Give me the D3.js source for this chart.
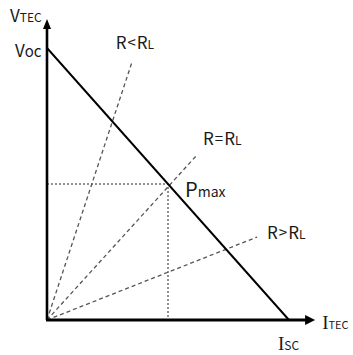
<!DOCTYPE html>
<html>
<head>
<meta charset="utf-8">
<script src="https://cdn.jsdelivr.net/npm/d3@7"></script>
<style>
  html, body { margin: 0; padding: 0; background: #fff; }
  svg { display: block; }
  text { font-family: "Noto Sans CJK KR", "Noto Sans", sans-serif; fill: #1a1a1a; }
</style>
</head>
<body>
<svg id="chart" width="353" height="355"></svg>
<script>
// normalised units: Isc = 1, Voc = 1
const isc = 1
const voc = 1
const pmax = { i: 0.5, v: 0.5 }
// load lines: end points of the dashed rays from the origin
const loadNames = ["R<RL", "R=RL", "R>RL"]
const loadEnds = [[0.35, 0.945], [0.62, 0.607], [0.868, 0.305]]
const axisMax = { i: 1.108, v: 1.107 }

const svg = d3.select("#chart")
const x = d3.scaleLinear().domain([0, isc]).range([47, 289])
const y = d3.scaleLinear().domain([0, voc]).range([320, 48])
const line = d3.line().x(d => x(d[0])).y(d => y(d[1]))

// dotted guides to Pmax
svg.append("path")
    .attr("d", line([[0, pmax.v], [pmax.i, pmax.v], [pmax.i, 0]]))
    .attr("fill", "none")
    .attr("stroke", "#222")
    .attr("stroke-width", 1)
    .attr("stroke-dasharray", "2,2")

// load lines
svg.selectAll("path.load")
    .data(loadEnds)
    .join("path")
    .attr("class", "load")
    .attr("d", d => line([[0, 0], d]))
    .attr("fill", "none")
    .attr("stroke", "#555")
    .attr("stroke-width", 1.3)
    .attr("stroke-dasharray", "4,3")

// I-V line
svg.append("path")
    .attr("d", line([[0, voc], [isc, 0]]))
    .attr("stroke", "#000")
    .attr("stroke-width", 1.9)

// axes
svg.append("line")
    .attr("x1", x(0)).attr("y1", y(0))
    .attr("x2", x(0)).attr("y2", y(axisMax.v) + 6)
    .attr("stroke", "#000").attr("stroke-width", 2.6)
svg.append("line")
    .attr("x1", x(0) - 1).attr("y1", y(0))
    .attr("x2", x(axisMax.i) - 6).attr("y2", y(0))
    .attr("stroke", "#000").attr("stroke-width", 3)
const yt = [x(0), y(axisMax.v)]
svg.append("path")
    .attr("d", `M${yt[0]},${yt[1]}L${yt[0]-4},${yt[1]+10}L${yt[0]+4},${yt[1]+10}Z`)
    .attr("fill", "#000")
const xt = [x(axisMax.i), y(0)]
svg.append("path")
    .attr("d", `M${xt[0]},${xt[1]}L${xt[0]-10},${xt[1]-5}L${xt[0]-10},${xt[1]+5}Z`)
    .attr("fill", "#000")

// labels
function label(px, py, big, small, bigSize, smallSize, serifI) {
  const t = svg.append("text").attr("x", px).attr("y", py)
  t.append("tspan").text(big).attr("font-size", bigSize)
    .style("font-family", serifI ? "'Liberation Serif', serif" : null)
  t.append("tspan").text(small).attr("font-size", smallSize)
  return t
}
label(10, 22, "V", "TEC", 17, 12)
label(15, 57, "V", "oc", 17, 15)
label(x(pmax.i) + 17, y(pmax.v) + 13, "P", "max", 20, 14)
label(x(axisMax.i) + 7, y(0) + 9, "I", "TEC", 19, 11, true)
label(x(isc) - 11, y(0) + 30, "I", "SC", 19, 12, true)

const loadLabelPos = [[x(loadEnds[0][0]) - 16, y(loadEnds[0][1]) - 14],
                      [x(loadEnds[1][0]) + 6, y(loadEnds[1][1]) - 10],
                      [x(loadEnds[2][0]) + 10, y(loadEnds[2][1]) + 2]]
loadNames.forEach((n, k) => {
  const t = svg.append("text").attr("x", loadLabelPos[k][0]).attr("y", loadLabelPos[k][1])
    .attr("font-size", 17)
  t.append("tspan").text(n[0])
  t.append("tspan").text(n[1]).attr("dx", 1).attr("dy", -1).attr("font-size", 15)
  t.append("tspan").text(n[2]).attr("dx", 1).attr("dy", 1)
  t.append("tspan").text("L").attr("font-size", 12)
})
</script>
</body>
</html>
